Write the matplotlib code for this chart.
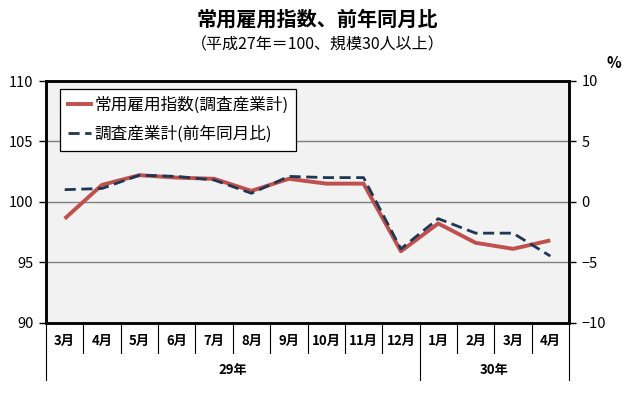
import matplotlib
matplotlib.use("Agg")
import matplotlib.pyplot as plt
from matplotlib.lines import Line2D

plt.rcParams['font.family'] = ['Noto Sans CJK JP', 'DejaVu Sans']

months = ['3月', '4月', '5月', '6月', '7月', '8月', '9月', '10月', '11月', '12月',
          '1月', '2月', '3月', '4月']
years = ['29年', '30年']
year_counts = [10, 4]
index_values = [98.6, 101.4, 102.2, 102.0, 101.9, 100.9, 101.9, 101.5, 101.5, 95.9,
                98.2, 96.6, 96.1, 96.8]
yoy_values = [1.0, 1.1, 2.2, 2.1, 1.8, 0.7, 2.1, 2.0, 2.0, -3.9,
              -1.4, -2.6, -2.6, -4.5]
series_names = ['常用雇用指数(調査産業計)', '調査産業計(前年同月比)']

W, H = 635, 415
fig = plt.figure(figsize=(W / 100, H / 100), dpi=100)
ax = fig.add_axes([46 / W, 1 - 322.5 / H, (569 - 46) / W, (322.5 - 81) / H])
ax.set_facecolor('#f2f2f2')

n = len(months)
x = list(range(n))
ax.set_xlim(-0.5, n - 0.5)
ax.set_ylim(90, 110)
ax.set_yticks([90, 95, 100, 105, 110])
for v in [95, 100, 105]:
    ax.axhline(v, color='#808080', lw=1, zorder=1)

red = '#c0504d'
navy = '#1f3654'
ax.plot(x, index_values, color=red, lw=2.8, zorder=3, solid_capstyle='butt')

ax2 = ax.twinx()
ax2.set_ylim(-10, 10)
ax2.set_yticks([-10, -5, 0, 5, 10])
ax2.set_yticklabels(['−10', '−5', '0', '5', '10'])
ax2.plot(x, yoy_values, color=navy, lw=2.0, dashes=(4, 2), zorder=4)

for a in (ax, ax2):
    for s in a.spines.values():
        s.set_linewidth(1.8)
        s.set_color('black')
    a.tick_params(axis='y', length=5, width=1, direction='out', labelsize=10.5, pad=4)
ax.set_xticks([])
ax2.set_xticks([])

# bottom category labels
tr = ax.get_xaxis_transform()
ph = 241.5  # axes height in px
def ay(px):  # px below axes bottom -> axes coords
    return -px / ph

for i, m in enumerate(months):
    ax.text(i, ay(18.5), m, transform=tr, ha='center', va='center', fontsize=9.5,
            fontweight='bold')
for i in range(n + 1):
    ax.add_line(Line2D([i - 0.5, i - 0.5], [0, ay(30)], transform=tr, color='black',
                       lw=0.8, clip_on=False))
start = 0
for yl, c in zip(years, year_counts):
    b0, b1 = start - 0.5, start + c - 0.5
    ax.text((b0 + b1) / 2, ay(47), yl, transform=tr, ha='center', va='center',
            fontsize=9.5, fontweight='bold')
    start += c
bounds = [-0.5]
for c in year_counts:
    bounds.append(bounds[-1] + c)
for b in bounds:
    ax.add_line(Line2D([b, b], [ay(30), ay(57.5)], transform=tr, color='black',
                       lw=0.8, clip_on=False))

# legend
handles = [Line2D([], [], color=red, lw=2.8),
           Line2D([], [], color=navy, lw=2.0, dashes=(4, 2))]
leg = ax2.legend(handles, series_names, loc='upper left', bbox_to_anchor=(0.027, 0.968),
                 fontsize=12, frameon=True, fancybox=False, edgecolor='black',
                 framealpha=1, handlelength=1.4, handletextpad=0.2, borderpad=0.45,
                 labelspacing=0.75, borderaxespad=0)
leg.get_frame().set_linewidth(0.9)

fig.text(0.5, 1 - 19 / H, '常用雇用指数、前年同月比', ha='center', va='center',
         fontsize=14.5, fontweight='bold')
fig.text(0.5, 1 - 45 / H, '（平成27年＝100、規模30人以上）', ha='center', va='center',
         fontsize=11.5)
fig.text(614 / W, 1 - 63 / H, '%', ha='center', va='center', fontsize=11, fontweight='bold')

fig.savefig('out.png', dpi=100)
